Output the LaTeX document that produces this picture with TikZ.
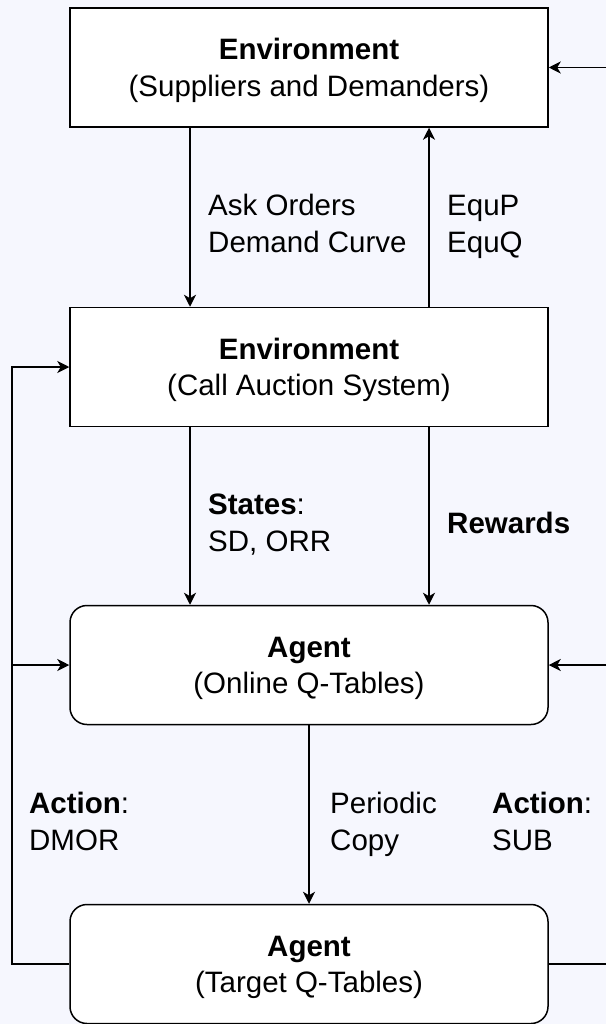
\documentclass[tikz,border=0pt]{standalone}
\usepackage{fontspec}
\setmainfont{Liberation Sans}
\usetikzlibrary{arrows.meta}
\definecolor{canvas}{RGB}{246,247,254}
% lifts the first line box so the two text lines sit a little lower in a block
\newcommand{\toppad}{\rule{0pt}{27pt}}
\begin{document}
\begin{tikzpicture}[x=1pt,y=-1pt,
  txt/.style={font=\fontsize{29.5}{36.5}\selectfont},
  box/.style={txt, draw=black, line width=1.5pt, fill=white,
    minimum width=478pt, minimum height=119pt, align=center, inner sep=0pt},
  rbox/.style={box, rounded corners=17pt},
  wire/.style={line width=1.3pt, draw=black},
  link/.style={wire, -{Stealth[length=12pt,width=12pt,inset=3.5pt]}},
  lbl/.style={txt, anchor=base west, align=left, inner sep=0pt}]
  \useasboundingbox[fill=canvas] (0,0) rectangle (606,1024);

  % main blocks
  \node[box]  (sup) at (309,67.5) {\toppad\textbf{Environment}\\(Suppliers and Demanders)};
  \node[box]  (cas) at (309,367)  {\toppad\textbf{Environment}\\(Call Auction System)};
  \node[rbox] (onl) at (309,665)  {\toppad\textbf{Agent}\\(Online Q-Tables)};
  \node[rbox] (tgt) at (309,964)  {\toppad\textbf{Agent}\\(Target Q-Tables)};

  % return rails
  \coordinate (lx) at (12,0);
  \coordinate (rx) at (606,0);

  % market <-> auction system
  \draw[link] ([xshift=-119pt]sup.south) -- ([xshift=-119pt]cas.north);
  \draw[link] ([xshift=120pt]cas.north) -- ([xshift=120pt]sup.south);
  % auction system -> online agent
  \draw[link] ([xshift=-119pt]cas.south) -- ([xshift=-119pt]onl.north);
  \draw[link] ([xshift=120pt]cas.south) -- ([xshift=120pt]onl.north);
  % online -> target
  \draw[link] (onl.south) -- (tgt.north);

  % left loop (DMOR)
  \draw[link] (tgt.west) -- (tgt.west -| lx) |- (cas.west);
  \draw[link] (onl.west -| lx) -- (onl.west);
  % right loop (SUB)
  \draw[wire] (tgt.east) -- (tgt.east -| rx);
  \draw[link] (onl.east -| rx) -- (onl.east);
  \draw[link] (sup.east -| rx) -- (sup.east);

  % connector labels (anchored on the baseline of their last line)
  \node[lbl] (l1) at (208,252.5) {Ask Orders\\Demand Curve};
  \node[lbl] (l2) at (447,252.5) {EquP\\EquQ};
  \node[lbl] (l3) at (208,551)   {\textbf{States}:\\SD, ORR};
  \node[lbl] (l4) at (447,533)   {\textbf{Rewards}};
  \node[lbl] (l5) at (29,850)    {\textbf{Action}:\\DMOR};
  \node[lbl] (l6) at (330,850)   {Periodic\\Copy};
  \node[lbl] (l7) at (492,850)   {\textbf{Action}:\\SUB};
\end{tikzpicture}
\end{document}
